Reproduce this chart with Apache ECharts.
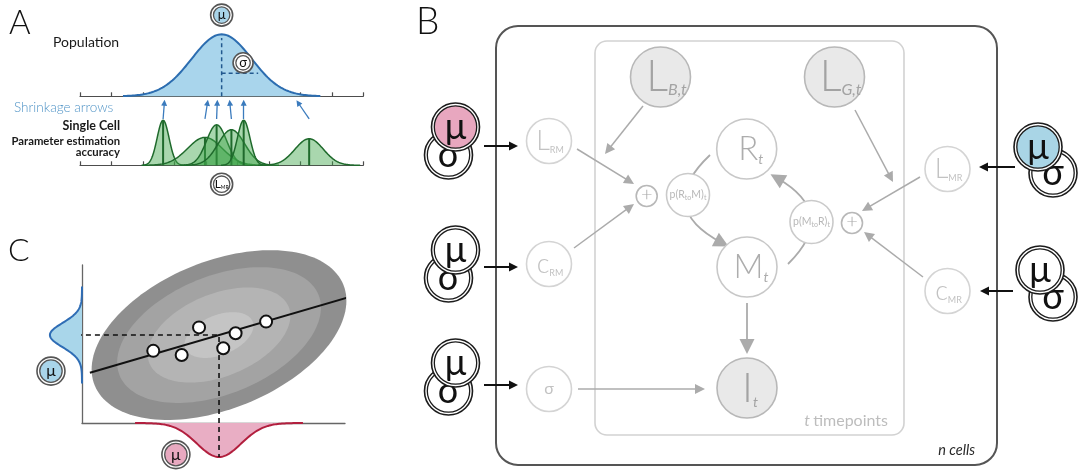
<!DOCTYPE html>
<html>
<head>
<meta charset="utf-8">
<title>Hierarchical single-cell model</title>
<script src="https://cdn.jsdelivr.net/npm/echarts@6/dist/echarts.min.js"></script>
<style>
  html, body { margin: 0; padding: 0; background: #ffffff; }
  #chart { width: 1078px; height: 470px; }
</style>
</head>
<body>
<div id="chart"></div>
<script>
// ---------- Panel A: population distribution and single-cell estimates ----------
const axisTicks    = [0, 1, 2, 3, 4, 5, 6, 7, 8, 9];
const popMean      = 4.5;
const popSd        = 0.95;
const popPeak      = 1.0;
const popSigmaLevel = 0.37;
const popSigmaEnd  = 5.66;
const cellMeans    = [2.64, 3.97, 4.34, 4.81, 5.20, 7.28];
const cellSds      = [0.19, 0.55, 0.32, 0.42, 0.20, 0.45];
const cellPeaks    = [1.00, 0.62, 0.90, 0.79, 1.00, 0.59];
const shrunkMeans  = [2.68, 4.05, 4.36, 4.76, 5.20, 6.93];

// ---------- Panel C: joint distribution of two parameters ----------
const obsX         = [2.71, 3.79, 4.45, 5.37, 5.84, 7.00];
const obsY         = [2.74, 2.58, 3.63, 2.84, 3.41, 3.85];
const fitX         = [0.30, 10.19];
const fitY         = [1.91, 4.79];
const jointMean    = [5.21, 3.34];
const marginalSd   = [0.84, 0.46];
const marginalPeak = [1.29, 1.22];
const covAxes      = [5.1, 2.8];
const covAngle     = 22;
const covLevels    = [1.0, 0.8, 0.56, 0.27];

// ---------- Panel B: graphical model ----------
const nodeIds    = ['LB', 'LG', 'R', 'M', 'I', 'LRM', 'cRM', 'sig', 'LMR', 'cMR', 'pRM', 'pMR', 'sumL', 'sumR'];
const nodeLabels = [
  '{L|L}{Ls|B,t}', '{L|L}{Ls|G,t}', '{R|R}{Rs|t}', '{R|M}{Rs|t}', '{I|I}{Rs|t}',
  '{l|L}{ls|RM}', '{l|c}{ls|RM}', '{g|σ}', '{l|L}{ls|MR}', '{l|c}{ls|MR}',
  '{p|p(R}{pt|to}{p|M)}{pt|t}', '{p|p(M}{pt|to}{p|R)}{pt|t}', '{plus|+}', '{plus|+}'
];
const nodeKinds  = ['observed', 'observed', 'latent', 'latent', 'observed',
                    'param', 'param', 'param', 'param', 'param', 'prob', 'prob', 'sum', 'sum'];
const priorTargets = ['LRM', 'cRM', 'sig', 'LMR', 'cMR'];
const plateLabels  = ['t timepoints', 'n cells'];

// Diagram layout (pixel space of the drawing)
const nodeLayout = {
  LB: [660.5, 77], LG: [834.5, 77], R: [746.7, 149], M: [747, 267], I: [747, 388],
  LRM: [549, 141], cRM: [549, 264], sig: [549, 389], LMR: [947.5, 169], cMR: [947.5, 291],
  pRM: [688, 195], pMR: [811.5, 222], sumL: [646.7, 196], sumR: [852, 223]
};
const labelShift = {
  LB: [6, 0], LG: [6, 0], R: [4, 0], M: [4, 0], I: [3, 0],
  LRM: [1, 0], cRM: [1, 0], sig: [0, 0], LMR: [1, 0], cMR: [1, 0],
  pRM: [0, 0], pMR: [0, 0], sumL: [0, -1], sumR: [0, -1]
};
const priorLayout = {
  LRM: { mu: [455.5, 127], sd: [448.5, 155], tail: [484, 146], tip: [518, 146] },
  cRM: { mu: [455.5, 250], sd: [448.5, 278], tail: [484, 267], tip: [518, 267] },
  sig: { mu: [455.5, 363], sd: [448.5, 391], tail: [484, 385], tip: [518, 385] },
  LMR: { mu: [1038, 147], sd: [1053, 173], tail: [1015, 167], tip: [979, 167] },
  cMR: { mu: [1040, 270], sd: [1053, 297], tail: [1013, 291], tip: [980, 291] }
};
const priorFill = { LRM: '#e8a7bf', LMR: '#a9d5e6' };
const edgeLayout = [
  { from: [643, 106], to: [605, 154] },
  { from: [855, 110], to: [893, 182] },
  { from: [577, 149], to: [634, 184] },
  { from: [574, 248], to: [634, 204] },
  { from: [920, 177], to: [862, 211] },
  { from: [923, 277], to: [864, 232] },
  { from: [578, 389], to: [705, 389] }
];
const bigEdgeLayout = [
  { from: [747, 303], to: [747, 354], curve: 0 },
  { from: [710, 155], to: [722, 243], curve: -0.7 },
  { from: [788, 264], to: [777, 178], curve: -0.66 }
];
const plateLayout = [
  { box: [595, 41, 904, 435], r: 12, stroke: '#d2d2d2', width: 1.6 },
  { box: [496, 26, 997, 465], r: 22, stroke: '#555555', width: 2 }
];

const FONT = 'Lato, "Open Sans", "DejaVu Sans", sans-serif';

// ---------- helpers ----------
function gaussPoints(api, mean, sd, peak, span, orient) {
  const pts = [];
  const n = 120;
  for (let i = 0; i <= n; i++) {
    const t = -span + (2 * span * i) / n;
    const h = peak * Math.exp(-0.5 * t * t);
    const u = mean + t * sd;
    if (orient === 'up') pts.push(api.coord([u, h]));
    else if (orient === 'down') pts.push(api.coord([u, -h]));
    else pts.push(api.coord([-h, u]));
  }
  return pts;
}
function gaussBase(api, mean, sd, span, orient) {
  const a = mean - span * sd, b = mean + span * sd;
  return orient === 'left' ? [api.coord([0, a]), api.coord([0, b])]
                           : [api.coord([a, 0]), api.coord([b, 0])];
}
function ringBadge(c, r, fill, label, fontSize, ring) {
  return {
    type: 'group',
    children: [
      { type: 'circle', shape: { cx: c[0], cy: c[1], r: r }, style: { fill: '#ffffff', stroke: ring, lineWidth: 1.6 } },
      { type: 'circle', shape: { cx: c[0], cy: c[1], r: r - 2.8 }, style: { fill: fill, stroke: ring, lineWidth: 1.3 } },
      { type: 'text', style: { legacy: false, x: c[0], y: c[1], text: label, rich: badgeRich(fontSize),
          align: 'center', verticalAlign: 'middle', fill: '#111', fontSize: fontSize, fontFamily: FONT } }
    ]
  };
}
function badgeRich(fs) {
  return {
    b: { fontSize: fs, fontFamily: FONT, lineHeight: fs },
    s: { fontSize: Math.round(fs * 0.45), fontFamily: FONT, lineHeight: fs * 0.6, verticalAlign: 'bottom' }
  };
}
function pullBack(from, to, d) {
  const dx = to[0] - from[0], dy = to[1] - from[1];
  const len = Math.sqrt(dx * dx + dy * dy);
  return [to[0] - dx / len * d, to[1] - dy / len * d];
}

const kindStyle = {
  observed: { r: 30,   fill: '#e9e9e9', stroke: '#b8b8b8', color: '#a3a3a3' },
  latent:   { r: 30,   fill: '#ffffff', stroke: '#c8c8c8', color: '#adadad' },
  param:    { r: 22.5, fill: '#ffffff', stroke: '#d4d4d4', color: '#c2c2c2' },
  prob:     { r: 21.5, fill: '#ffffff', stroke: '#cacaca', color: '#b8b8b8' },
  sum:      { r: 10.5, fill: '#ffffff', stroke: '#b8b8b8', color: '#a8a8a8' }
};
const nodeRich = {
  L:    { fontSize: 43, fontWeight: 300, fontFamily: FONT, lineHeight: 42 },
  Ls:   { fontSize: 16, fontStyle: 'italic', fontFamily: FONT, lineHeight: 26, verticalAlign: 'bottom' },
  R:    { fontSize: 33, fontWeight: 300, fontFamily: FONT, lineHeight: 34 },
  I:    { fontSize: 42, fontWeight: 300, fontFamily: FONT, lineHeight: 42 },
  Rs:   { fontSize: 14, fontStyle: 'italic', fontFamily: FONT, lineHeight: 16, verticalAlign: 'bottom' },
  l:    { fontSize: 27, fontWeight: 300, fontFamily: FONT, lineHeight: 28 },
  ls:   { fontSize: 9,  fontFamily: FONT, lineHeight: 15, verticalAlign: 'bottom' },
  g:    { fontSize: 16, fontFamily: FONT, lineHeight: 18 },
  p:    { fontSize: 10.5, fontFamily: FONT, lineHeight: 13 },
  pt:   { fontSize: 7,  fontFamily: FONT, lineHeight: 9, verticalAlign: 'bottom' },
  plus: { fontSize: 20, fontWeight: 300, fontFamily: FONT, lineHeight: 20 }
};

const option = {
  animation: false,
  backgroundColor: '#ffffff',
  grid: [
    { left: 80, right: 1078 - 363.3, top: 34.3, bottom: 470 - 96.3 },   // A: population
    { left: 80, right: 1078 - 363.3, top: 100.05, bottom: 470 - 165.3 }, // A: single cells
    { left: 82, right: 1078 - 345, top: 265, bottom: 470 - 423 },       // C
    { left: 0, right: 0, top: 0, bottom: 0 }                             // B drawing space
  ],
  xAxis: [
    { gridIndex: 0, type: 'value', min: axisTicks[0], max: axisTicks[axisTicks.length - 1], interval: 1,
      axisLine: { lineStyle: { color: '#4d4d4d', width: 1.2 } },
      axisTick: { inside: true, length: 4, lineStyle: { color: '#4d4d4d', width: 1.2 } },
      axisLabel: { show: false }, splitLine: { show: false } },
    { gridIndex: 1, type: 'value', min: axisTicks[0], max: axisTicks[axisTicks.length - 1], interval: 1,
      axisLine: { lineStyle: { color: '#4d4d4d', width: 1.2 } },
      axisTick: { inside: true, length: 4, lineStyle: { color: '#4d4d4d', width: 1.2 } },
      axisLabel: { show: false }, splitLine: { show: false } },
    { gridIndex: 2, type: 'value', min: 0, max: 10,
      axisLine: { lineStyle: { color: '#666', width: 1.3 } },
      axisTick: { show: false }, axisLabel: { show: false }, splitLine: { show: false } },
    { gridIndex: 3, type: 'value', min: 0, max: 1078, show: false }
  ],
  yAxis: [
    { gridIndex: 0, type: 'value', min: 0, max: 1, show: false },
    { gridIndex: 1, type: 'value', min: 0, max: 1.45, show: false },
    { gridIndex: 2, type: 'value', min: 0, max: 6,
      axisLine: { show: true, lineStyle: { color: '#666', width: 1.3 } },
      axisTick: { show: false }, axisLabel: { show: false }, splitLine: { show: false } },
    { gridIndex: 3, type: 'value', min: 0, max: 470, inverse: true, show: false }
  ],
  graphic: [
    { type: 'text', x: 9, y: 40, style: { legacy: false, text: 'A', fontSize: 33, fontWeight: 300, fontFamily: FONT, fill: '#111', verticalAlign: 'bottom' } },
    { type: 'text', x: 416, y: 41, style: { legacy: false, text: 'B', fontSize: 37, fontWeight: 300, fontFamily: FONT, fill: '#111', verticalAlign: 'bottom' } },
    { type: 'text', x: 8, y: 267, style: { legacy: false, text: 'C', fontSize: 32, fontWeight: 300, fontFamily: FONT, fill: '#111', verticalAlign: 'bottom' } },
    { type: 'text', x: 53, y: 42, style: { legacy: false, text: 'Population', fontSize: 14, fontFamily: FONT, fill: '#1a1a1a', verticalAlign: 'middle' } },
    { type: 'text', x: 14, y: 108, style: { legacy: false, text: 'Shrinkage arrows', fontSize: 13.5, fontWeight: 300, fontFamily: FONT, fill: '#4f93c6', verticalAlign: 'middle' } },
    { type: 'text', x: 120, y: 126, style: { legacy: false, text: 'Single Cell', fontSize: 12.5, fontWeight: 'bold', fontFamily: FONT, fill: '#1a1a1a', align: 'right', verticalAlign: 'middle' } },
    { type: 'text', x: 120, y: 141.5, style: { legacy: false, text: 'Parameter estimation', fontSize: 11.3, fontWeight: 'bold', fontFamily: FONT, fill: '#1a1a1a', align: 'right', verticalAlign: 'middle' } },
    { type: 'text', x: 120, y: 152.5, style: { legacy: false, text: 'accuracy', fontSize: 11.3, fontWeight: 'bold', fontFamily: FONT, fill: '#1a1a1a', align: 'right', verticalAlign: 'middle' } },
    { type: 'text', x: 888, y: 421, style: { legacy: false, text: '{i|t} {n|timepoints}', align: 'right', verticalAlign: 'middle', fill: '#bdbdbd',
        rich: { i: { fontSize: 16, fontStyle: 'italic', fontFamily: FONT }, n: { fontSize: 16, fontFamily: FONT } } } },
    { type: 'text', x: 975, y: 450, style: { legacy: false, text: plateLabels[1], align: 'right', verticalAlign: 'middle', fill: '#2a2a2a',
        fontSize: 14.5, fontStyle: 'italic', fontFamily: FONT } }
  ],
  series: [
    // ----- A: population density -----
    {
      type: 'custom', xAxisIndex: 0, yAxisIndex: 0, z: 2,
      data: [[popMean, popSd, popPeak]],
      renderItem: function (params, api) {
        const m = api.value(0), s = api.value(1), p = api.value(2);
        const pts = gaussPoints(api, m, s, p, 3.3, 'up');
        const base = gaussBase(api, m, s, 3.3, 'up');
        return { type: 'group', children: [
          { type: 'polygon', shape: { points: [base[0]].concat(pts, [base[1]]) }, style: { fill: '#a9d5ec' } },
          { type: 'polyline', shape: { points: pts }, style: { stroke: '#2c6db0', lineWidth: 2, fill: null } }
        ] };
      }
    },
    {
      type: 'line', xAxisIndex: 0, yAxisIndex: 0, z: 3, symbol: 'none', silent: true,
      data: [[popMean, 0], [popMean, popPeak * 0.94]],
      lineStyle: { color: '#22598f', width: 1.5, type: [4, 3] }
    },
    {
      type: 'line', xAxisIndex: 0, yAxisIndex: 0, z: 3, symbol: 'none', silent: true,
      data: [[popMean, popSigmaLevel], [popSigmaEnd, popSigmaLevel]],
      lineStyle: { color: '#22598f', width: 1.5, type: [4, 3] }
    },
    {
      type: 'custom', xAxisIndex: 0, yAxisIndex: 0, z: 6,
      data: [[popMean, 1.31], [5.18, 0.54]],
      renderItem: function (params, api) {
        const c = api.coord([api.value(0), api.value(1)]);
        return params.dataIndex === 0
          ? ringBadge(c, 11, '#a9d5ea', '{b|μ}', 13, '#555')
          : ringBadge(c, 10, '#ffffff', '{b|σ}', 13, '#555');
      }
    },
    // ----- A: single-cell estimates -----
    {
      type: 'custom', xAxisIndex: 1, yAxisIndex: 1, z: 2,
      data: cellMeans.map(function (m, i) { return [m, cellSds[i], cellPeaks[i]]; }),
      renderItem: function (params, api) {
        const m = api.value(0), s = api.value(1), p = api.value(2);
        const pts = gaussPoints(api, m, s, p, 3.6, 'up');
        const base = gaussBase(api, m, s, 3.6, 'up');
        return { type: 'group', children: [
          { type: 'polygon', shape: { points: [base[0]].concat(pts, [base[1]]) }, style: { fill: 'rgba(64,166,76,0.45)' } },
          { type: 'polyline', shape: { points: pts }, style: { stroke: '#1f6a2c', lineWidth: 1.5, fill: null } },
          { type: 'line', shape: { x1: api.coord([m, 0])[0], y1: api.coord([m, 0])[1], x2: api.coord([m, p])[0], y2: api.coord([m, p])[1] },
            style: { stroke: '#1f6a2c', lineWidth: 2 } }
        ] };
      }
    },
    {
      type: 'lines', coordinateSystem: 'cartesian2d', xAxisIndex: 1, yAxisIndex: 1, z: 4, silent: true,
      symbol: ['none', 'triangle'], symbolSize: [5, 6],
      lineStyle: { color: '#3b7bbd', width: 1.3, opacity: 1 },
      data: cellMeans.map(function (m, i) { return { coords: [[m, 1.03], [shrunkMeans[i], 1.39]] }; })
    },
    {
      type: 'custom', xAxisIndex: 1, yAxisIndex: 1, z: 6,
      data: [[popMean, -0.42]],
      renderItem: function (params, api) {
        const c = api.coord([api.value(0), api.value(1)]);
        return ringBadge(c, 11, '#ffffff', '{b|L}{s|MR}', 12, '#555');
      }
    },
    // ----- C: covariance ellipse -----
    {
      type: 'custom', xAxisIndex: 2, yAxisIndex: 2, z: 1,
      data: covLevels.map(function (k) { return [jointMean[0], jointMean[1], k]; }),
      renderItem: function (params, api) {
        const cx = api.value(0), cy = api.value(1), k = api.value(2);
        const phi = covAngle * Math.PI / 180;
        const shades = ['#8f8f8f', '#a3a3a3', '#b4b4b4', '#c4c4c4'];
        const pts = [];
        for (let i = 0; i < 144; i++) {
          const t = i / 144 * Math.PI * 2;
          const lx = covAxes[0] * k * Math.cos(t), ly = covAxes[1] * k * Math.sin(t);
          pts.push(api.coord([cx + lx * Math.cos(phi) - ly * Math.sin(phi), cy + lx * Math.sin(phi) + ly * Math.cos(phi)]));
        }
        return { type: 'polygon', shape: { points: pts }, style: { fill: shades[params.dataIndex] } };
      }
    },
    {
      type: 'line', xAxisIndex: 2, yAxisIndex: 2, z: 3, symbol: 'none', clip: false, silent: true,
      data: [[-marginalPeak[1], jointMean[1]], [jointMean[0], jointMean[1]], [jointMean[0], -marginalPeak[0]]],
      lineStyle: { color: '#111', width: 1.6, type: [5, 4] }
    },
    {
      type: 'line', xAxisIndex: 2, yAxisIndex: 2, z: 4, symbol: 'none', clip: false, silent: true,
      data: [[fitX[0], fitY[0]], [fitX[1], fitY[1]]],
      lineStyle: { color: '#111', width: 2 }
    },
    {
      type: 'scatter', xAxisIndex: 2, yAxisIndex: 2, z: 5, symbolSize: 12, clip: false, silent: true,
      data: obsX.map(function (x, i) { return [x, obsY[i]]; }),
      itemStyle: { color: '#ffffff', borderColor: '#111', borderWidth: 2, opacity: 1 }
    },
    {
      type: 'custom', xAxisIndex: 2, yAxisIndex: 2, z: 2,
      data: [[jointMean[1], marginalSd[1], marginalPeak[1], 0], [jointMean[0], marginalSd[0], marginalPeak[0], 1]],
      renderItem: function (params, api) {
        const m = api.value(0), s = api.value(1), p = api.value(2);
        const horizontal = api.value(3) === 1;
        const orient = horizontal ? 'down' : 'left';
        const span = horizontal ? 3.8 : 4;
        const pts = gaussPoints(api, m, s, p, span, orient);
        const base = gaussBase(api, m, s, span, orient);
        const fill = horizontal ? '#e9aec4' : '#a9d6ea';
        const stroke = horizontal ? '#b21f3e' : '#2f6db5';
        return { type: 'group', children: [
          { type: 'polygon', shape: { points: [base[0]].concat(pts, [base[1]]) }, style: { fill: fill } },
          { type: 'polyline', shape: { points: pts }, style: { stroke: stroke, lineWidth: 2, fill: null } }
        ] };
      }
    },
    {
      type: 'custom', xAxisIndex: 2, yAxisIndex: 2, z: 6,
      data: [[-1.18, 1.97], [3.57, -1.2]],
      renderItem: function (params, api) {
        const c = api.coord([api.value(0), api.value(1)]);
        return ringBadge(c, 14, params.dataIndex === 0 ? '#a9d5ea' : '#e8a9c0', '{b|μ}', 16, '#555');
      }
    },
    // ----- B: plates -----
    {
      type: 'custom', xAxisIndex: 3, yAxisIndex: 3, z: 1, silent: true,
      data: plateLayout.map(function (p, i) { return [i]; }),
      renderItem: function (params, api) {
        const p = plateLayout[params.dataIndex];
        const a = api.coord([p.box[0], p.box[1]]), b = api.coord([p.box[2], p.box[3]]);
        return { type: 'rect', shape: { x: a[0], y: a[1], width: b[0] - a[0], height: b[1] - a[1], r: p.r },
                 style: { fill: 'none', stroke: p.stroke, lineWidth: p.width } };
      }
    },
    // ----- B: thin grey dependency arrows -----
    {
      type: 'lines', coordinateSystem: 'cartesian2d', xAxisIndex: 3, yAxisIndex: 3, z: 2, silent: true,
      symbol: ['none', 'triangle'], symbolSize: [8, 10],
      lineStyle: { color: '#ababab', width: 1.5, opacity: 1 },
      data: edgeLayout.map(function (e) { return { coords: [e.from, pullBack(e.from, e.to, 5)] }; })
    },
    // ----- B: heavy arrows (update cycle and observation) -----
    {
      type: 'lines', coordinateSystem: 'cartesian2d', xAxisIndex: 3, yAxisIndex: 3, z: 2, silent: true,
      symbol: ['none', 'triangle'], symbolSize: [15, 15],
      data: bigEdgeLayout.map(function (e) {
        return { coords: [e.from, e.curve ? e.to : pullBack(e.from, e.to, 7.5)], lineStyle: { curveness: e.curve } };
      }),
      lineStyle: { color: '#ababab', width: 1.8, opacity: 1 }
    },
    // ----- B: model nodes -----
    {
      type: 'custom', xAxisIndex: 3, yAxisIndex: 3, z: 4, silent: true,
      data: nodeIds.map(function (id, i) { return [i]; }),
      renderItem: function (params, api) {
        const i = params.dataIndex;
        const id = nodeIds[i];
        const st = kindStyle[nodeKinds[i]];
        const c = api.coord(nodeLayout[id]);
        const sh = labelShift[id];
        return { type: 'group', children: [
          { type: 'circle', shape: { cx: c[0], cy: c[1], r: st.r }, style: { fill: st.fill, stroke: st.stroke, lineWidth: 1.6 } },
          { type: 'text', style: { legacy: false, x: c[0] + sh[0], y: c[1] + sh[1], text: nodeLabels[i], rich: nodeRich,
              align: 'center', verticalAlign: 'middle', fill: st.color, fontFamily: FONT } }
        ] };
      }
    },
    // ----- B: hyper-prior badges (μ over σ) -----
    {
      type: 'custom', xAxisIndex: 3, yAxisIndex: 3, z: 5, silent: true,
      data: priorTargets.map(function (t, i) { return [i]; }),
      renderItem: function (params, api) {
        const id = priorTargets[params.dataIndex];
        const p = priorLayout[id];
        return { type: 'group', children: [
          ringBadge(api.coord(p.sd), 24, '#ffffff', '{b|σ}', 36, '#1c1c1c'),
          ringBadge(api.coord(p.mu), 24, priorFill[id] || '#ffffff', '{b|μ}', 36, '#1c1c1c')
        ] };
      }
    },
    {
      type: 'lines', coordinateSystem: 'cartesian2d', xAxisIndex: 3, yAxisIndex: 3, z: 6, silent: true,
      symbol: ['none', 'triangle'], symbolSize: [9, 9],
      lineStyle: { color: '#111', width: 2, opacity: 1 },
      data: priorTargets.map(function (t) {
        const p = priorLayout[t];
        return { coords: [p.tail, pullBack(p.tail, p.tip, 4.5)] };
      })
    }
  ]
};

const chart = echarts.init(document.getElementById('chart'), null, { renderer: 'canvas' });
chart.setOption(option);
</script>
</body>
</html>
